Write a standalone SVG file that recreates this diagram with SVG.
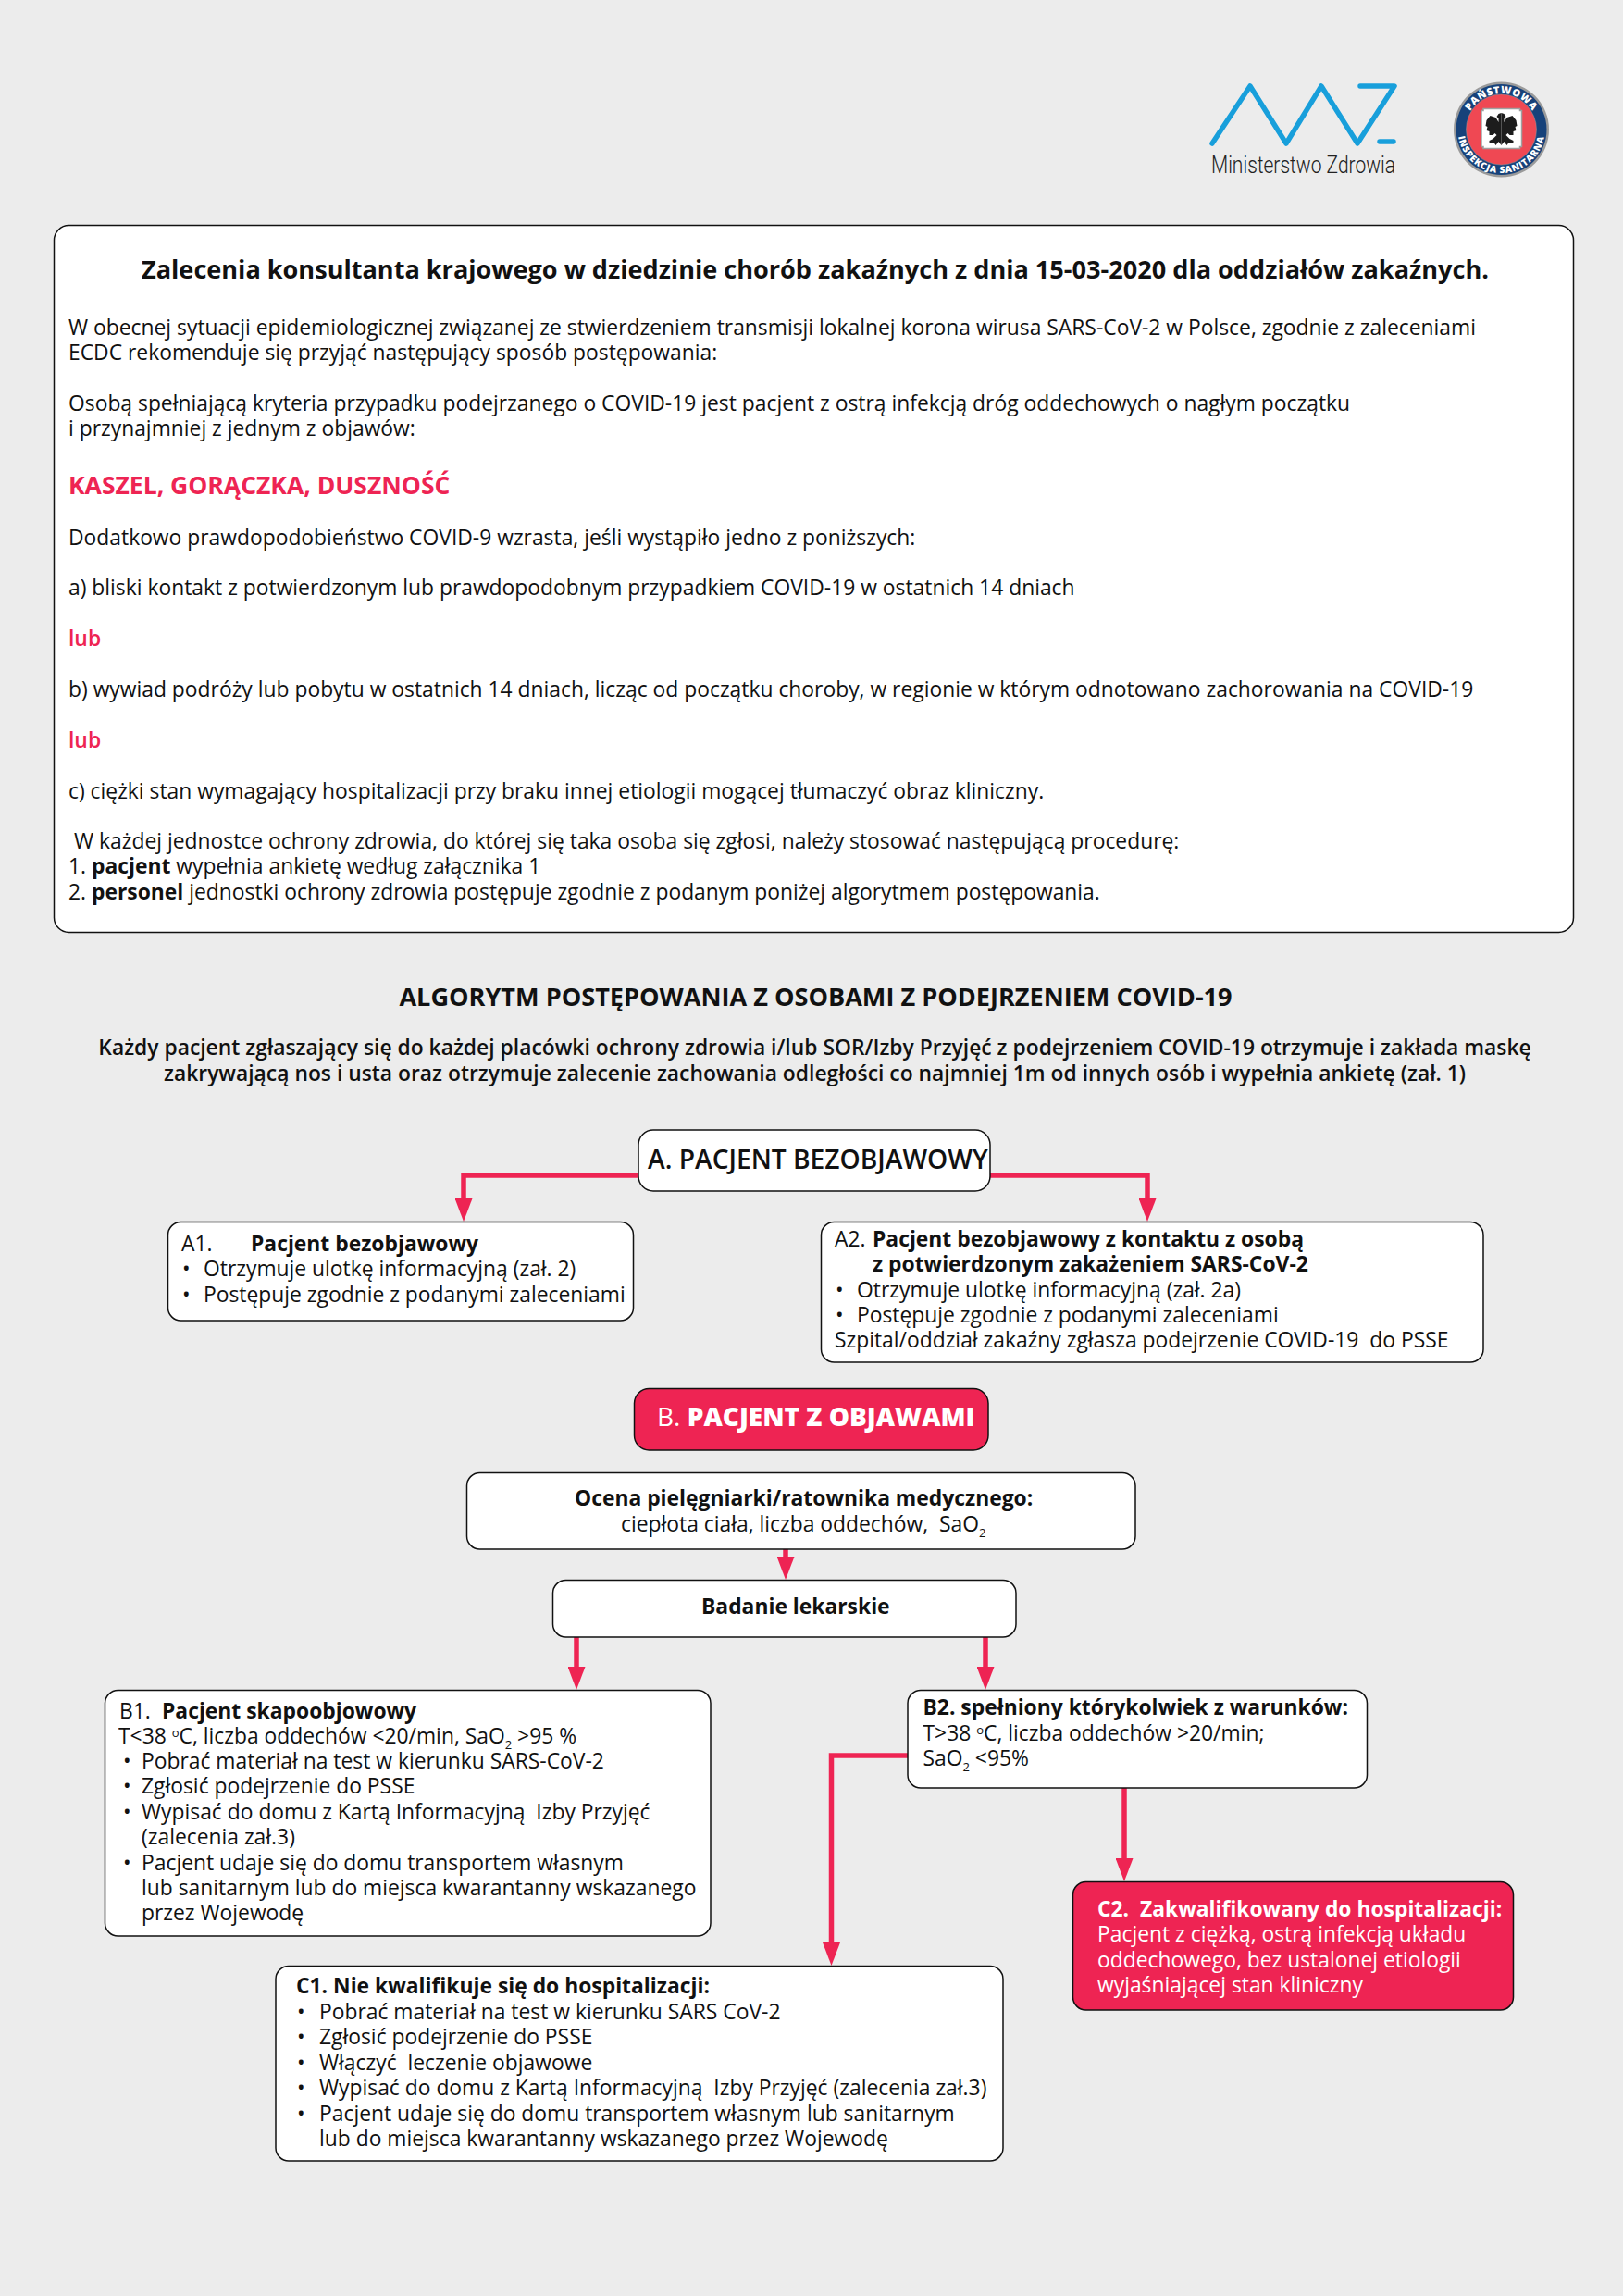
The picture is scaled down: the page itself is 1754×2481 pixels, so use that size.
<svg xmlns="http://www.w3.org/2000/svg" width="1754" height="2481" viewBox="0 0 1754 2481">
<style>
text{font-family:"Open Sans","Noto Sans","Liberation Sans",sans-serif;font-size:22.85px;fill:#111;white-space:pre}
.b{font-weight:700}
.r{fill:#ee2453}
.w{fill:#fff}
.m{text-anchor:middle}
.s{font-size:13px}
.box{fill:#fff;stroke:#111;stroke-width:1.5}
.red{fill:#ee2453;stroke:#111;stroke-width:1.5}
.c{fill:none;stroke:#ee2453;stroke-width:5.5;marker-end:url(#ah)}
</style>
<defs>
<marker id="ah" markerUnits="userSpaceOnUse" markerWidth="25" markerHeight="19" refX="13" refY="9.500" orient="auto" viewBox="0 0 25 19"><path d="M0 0L25 9.500L0 19Z" fill="#ee2453"/></marker>
<path id="arcTop" d="M1583.500 140A39 39 0 0 1 1661.500 140"/>
<path id="arcBot" d="M1575.500 140A47 47 0 0 0 1669.500 140"/>
<path id="wing" d="M0 122L3 123L5 126L3 128L3 132L6 127L12 125L16 130L17 136L15 137L16 141L13 142L13 146L9 146L7 144L5 146L9 150L13 152L13 155L8 154L6 157L3 153L0 157Z" fill="#1c1c1c"/>
</defs>
<rect width="1754" height="2481" fill="#ececec"/>
<g id="logo-mz">
<path d="M1310 155L1351 93L1390 155L1428 93L1467 155L1507 93H1470M1491 153H1506" fill="none" stroke="#189fdb" stroke-width="5.500" stroke-linecap="round" stroke-linejoin="round"/>
<text x="1309" y="187" textLength="199" lengthAdjust="spacingAndGlyphs" style="font-family:Roboto,sans-serif;font-weight:300;font-size:25px;fill:#222">Ministerstwo Zdrowia</text>
</g>
<g id="logo-psse">
<circle cx="1622.500" cy="140" r="51.500" fill="#9a9a9a"/>
<circle cx="1622.500" cy="140" r="49" fill="#17427a"/>
<circle cx="1622.500" cy="140" r="38" fill="#ef4853" stroke="#9a9a9a" stroke-width="0.500"/>
<path d="M1603 117.500H1642.500V119.500H1644.500V158.500H1642.500V160.500H1603V158.500H1601V119.500H1603Z" fill="#fff" stroke="#a0a0a0" stroke-width="1.500"/>
<use href="#wing" x="1622.500"/>
<use href="#wing" transform="translate(1622.500 0) scale(-1 1)"/>
<text style="font-size:11px;font-weight:800;fill:#fff;letter-spacing:.5px"><textPath href="#arcTop" startOffset="50%" text-anchor="middle">PAŃSTWOWA</textPath></text>
<text style="font-size:10px;font-weight:800;fill:#fff;letter-spacing:.8px"><textPath href="#arcBot" startOffset="50%" text-anchor="middle">INSPEKCJA SANITARNA</textPath></text>
</g>
<g id="intro">
<rect class="box" x="58.500" y="243.500" width="1642" height="764" rx="16"/>
<text class="b m" x="881" y="300.500" style="font-size:27.100px">Zalecenia konsultanta krajowego w dziedzinie chorób zakaźnych z dnia 15-03-2020 dla oddziałów zakaźnych.</text>
<text x="74" y="362">W obecnej sytuacji epidemiologicznej związanej ze stwierdzeniem transmisji lokalnej korona wirusa SARS-CoV-2 w Polsce, zgodnie z zaleceniami</text>
<text x="74" y="389">ECDC rekomenduje się przyjąć następujący sposób postępowania:</text>
<text x="74" y="443.500">Osobą spełniającą kryteria przypadku podejrzanego o COVID-19 jest pacjent z ostrą infekcją dróg oddechowych o nagłym początku</text>
<text x="74" y="471">i przynajmniej z jednym z objawów:</text>
<text class="b r" x="74" y="534" style="font-size:26.500px">KASZEL, GORĄCZKA, DUSZNOŚĆ</text>
<text x="74" y="588.500">Dodatkowo prawdopodobieństwo COVID-9 wzrasta, jeśli wystąpiło jedno z poniższych:</text>
<text x="74" y="643">a) bliski kontakt z potwierdzonym lub prawdopodobnym przypadkiem COVID-19 w ostatnich 14 dniach</text>
<text class="r" x="74" y="698" style="font-weight:600">lub</text>
<text x="74" y="753">b) wywiad podróży lub pobytu w ostatnich 14 dniach, licząc od początku choroby, w regionie w którym odnotowano zachorowania na COVID-19</text>
<text class="r" x="74" y="808" style="font-weight:600">lub</text>
<text x="74" y="863">c) ciężki stan wymagający hospitalizacji przy braku innej etiologii mogącej tłumaczyć obraz kliniczny.</text>
<text x="80" y="916.500">W każdej jednostce ochrony zdrowia, do której się taka osoba się zgłosi, należy stosować następującą procedurę:</text>
<text x="74" y="944">1. <tspan class="b">pacjent</tspan> wypełnia ankietę według załącznika 1</text>
<text x="74" y="971.500">2. <tspan class="b">personel</tspan> jednostki ochrony zdrowia postępuje zgodnie z podanym poniżej algorytmem postępowania.</text>
</g>
<g id="heading">
<text class="b m" x="881.500" y="1086.500" style="font-size:27.100px">ALGORYTM POSTĘPOWANIA Z OSOBAMI Z PODEJRZENIEM COVID-19</text>
<text class="m" x="880.500" y="1140" style="font-weight:600">Każdy pacjent zgłaszający się do każdej placówki ochrony zdrowia i/lub SOR/Izby Przyjęć z podejrzeniem COVID-19 otrzymuje i zakłada maskę</text>
<text class="m" x="880.500" y="1168" style="font-weight:600">zakrywającą nos i usta oraz otrzymuje zalecenie zachowania odległości co najmniej 1m od innych osób i wypełnia ankietę (zał. 1)</text>
</g>
<g id="connectors">
<path class="c" d="M690 1270H501V1308"/>
<path class="c" d="M1070 1270H1240V1308"/>
<path class="c" d="M849 1674V1695"/>
<path class="c" d="M623 1769V1814"/>
<path class="c" d="M1065 1769V1814"/>
<path class="c" d="M981 1897H898.500V2112"/>
<path class="c" d="M1215 1932V2021"/>
</g>
<g id="node-a">
<rect class="box" x="690" y="1221" width="380" height="66" rx="16"/>
<text x="700" y="1262.500" style="font-size:28.200px;font-weight:600">A. PACJENT BEZOBJAWOWY</text>
</g>
<g id="node-a1">
<rect class="box" x="181.500" y="1320.500" width="503" height="106.500" rx="14"/>
<text x="196" y="1352">A1.</text><text class="b" x="271" y="1352">Pacjent bezobjawowy</text>
<text x="197" y="1379">•</text><text x="220" y="1379">Otrzymuje ulotkę informacyjną (zał. 2)</text>
<text x="197" y="1407">•</text><text x="220" y="1407">Postępuje zgodnie z podanymi zaleceniami</text>
</g>
<g id="node-a2">
<rect class="box" x="887.500" y="1320.500" width="715.500" height="151.500" rx="14"/>
<text x="902" y="1347">A2.</text><text class="b" x="943" y="1347">Pacjent bezobjawowy z kontaktu z osobą</text>
<text class="b" x="943" y="1374">z potwierdzonym zakażeniem SARS-CoV-2</text>
<text x="903" y="1402">•</text><text x="926" y="1402">Otrzymuje ulotkę informacyjną (zał. 2a)</text>
<text x="903" y="1429">•</text><text x="926" y="1429">Postępuje zgodnie z podanymi zaleceniami</text>
<text x="902" y="1456">Szpital/oddział zakaźny zgłasza podejrzenie COVID-19  do PSSE</text>
</g>
<g id="node-b">
<rect class="red" x="685.500" y="1500.500" width="382.500" height="66.500" rx="16"/>
<text class="w" x="710" y="1541" style="font-size:28px;font-weight:800"><tspan style="font-weight:500">B.</tspan> PACJENT Z OBJAWAMI</text>
</g>
<g id="node-ocena">
<rect class="box" x="504.500" y="1591.500" width="722.500" height="82.500" rx="14"/>
<text class="b" x="621" y="1627">Ocena pielęgniarki/ratownika medycznego:</text>
<text x="671" y="1655">ciepłota ciała, liczba oddechów,  SaO<tspan class="s" dy="6">2</tspan></text>
</g>
<g id="node-badanie">
<rect class="box" x="597.500" y="1707.500" width="500.500" height="61.500" rx="14"/>
<text class="b" x="758" y="1744">Badanie lekarskie</text>
</g>
<g id="node-b1">
<rect class="box" x="113.500" y="1826.500" width="654.500" height="265.500" rx="14"/>
<text x="129" y="1857">B1.</text><text class="b" x="175" y="1857">Pacjent skapoobjowowy</text>
<text x="128" y="1884">T&lt;38 <tspan class="s" dy="-7">o</tspan><tspan dy="7">C, liczba oddechów &lt;20/min, SaO</tspan><tspan class="s" dy="6">2</tspan><tspan dy="-6"> &gt;95 %</tspan></text>
<text x="133" y="1911">•</text><text x="153" y="1911">Pobrać materiał na test w kierunku SARS-CoV-2</text>
<text x="133" y="1938">•</text><text x="153" y="1938">Zgłosić podejrzenie do PSSE</text>
<text x="133" y="1966">•</text><text x="153" y="1966">Wypisać do domu z Kartą Informacyjną  Izby Przyjęć</text>
<text x="153" y="1993">(zalecenia zał.3)</text>
<text x="133" y="2021">•</text><text x="153" y="2021">Pacjent udaje się do domu transportem własnym</text>
<text x="153" y="2048">lub sanitarnym lub do miejsca kwarantanny wskazanego</text>
<text x="153" y="2075">przez Wojewodę</text>
</g>
<g id="node-b2">
<rect class="box" x="981" y="1826.500" width="496.500" height="105.500" rx="14"/>
<text class="b" x="997.500" y="1853">B2. spełniony którykolwiek z warunków:</text>
<text x="997.500" y="1881">T&gt;38 <tspan class="s" dy="-7">o</tspan><tspan dy="7">C, liczba oddechów &gt;20/min;</tspan></text>
<text x="997.500" y="1908">SaO<tspan class="s" dy="6">2</tspan><tspan dy="-6"> &lt;95%</tspan></text>
</g>
<g id="node-c2">
<rect class="red" x="1159.500" y="2033.500" width="476" height="138.500" rx="14"/>
<text class="w b" x="1186" y="2071">C2.  Zakwalifikowany do hospitalizacji:</text>
<text class="w" x="1186" y="2098">Pacjent z ciężką, ostrą infekcją układu</text>
<text class="w" x="1186" y="2126">oddechowego, bez ustalonej etiologii</text>
<text class="w" x="1186" y="2153">wyjaśniającej stan kliniczny</text>
</g>
<g id="node-c1">
<rect class="box" x="298" y="2124.500" width="786" height="210.500" rx="14"/>
<text class="b" x="320" y="2154">C1. Nie kwalifikuje się do hospitalizacji:</text>
<text x="321" y="2182">•</text><text x="345" y="2182">Pobrać materiał na test w kierunku SARS CoV-2</text>
<text x="321" y="2209">•</text><text x="345" y="2209">Zgłosić podejrzenie do PSSE</text>
<text x="321" y="2237">•</text><text x="345" y="2237">Włączyć  leczenie objawowe</text>
<text x="321" y="2264">•</text><text x="345" y="2264">Wypisać do domu z Kartą Informacyjną  Izby Przyjęć (zalecenia zał.3)</text>
<text x="321" y="2292">•</text><text x="345" y="2292">Pacjent udaje się do domu transportem własnym lub sanitarnym</text>
<text x="345" y="2319">lub do miejsca kwarantanny wskazanego przez Wojewodę</text>
</g>
</svg>
